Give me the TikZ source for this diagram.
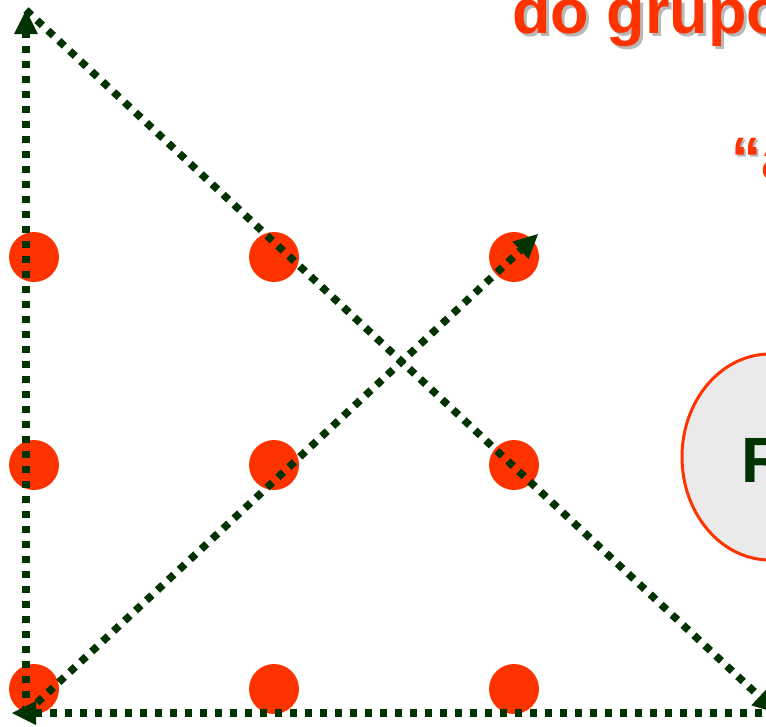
\documentclass[tikz,border=0pt]{standalone}
\usepackage{fontspec}
\setmainfont{Liberation Sans}
\usetikzlibrary{arrows.meta,shapes.geometric}
\definecolor{dotred}{HTML}{FF3300}
\definecolor{lngreen}{HTML}{003300}
\definecolor{shadegray}{HTML}{B8B8B8}
\definecolor{ellfill}{HTML}{EAEAEA}
\tikzset{
  dotc/.style={circle, fill=dotred, minimum size=50pt, inner sep=0pt},
  movearrow/.style={draw=lngreen, line width=7.5pt, dash pattern=on 7.5pt off 7.5pt,
    -{Triangle[length=24pt,width=24pt,line width=0pt]}},
  titletext/.style={anchor=base west, inner sep=0pt, font=\fontsize{63}{63}\selectfont\bfseries},
  quotetext/.style={anchor=base west, inner sep=0pt, font=\fontsize{60}{60}\selectfont\bfseries},
}
\begin{document}
\begin{tikzpicture}[x=1pt,y=-1pt]
\useasboundingbox (0,0) rectangle (766,726);
\clip (0,0) rectangle (766,726);
\fill[white] (0,0) rectangle (766,726);
% dots
\foreach \i/\x in {1/34,2/274,3/514}{
  \foreach \j/\y in {1/257,2/465,3/689}{
    \node[dotc] (d\i\j) at (\x,\y) {};
  }
}
% corner points of the path
\coordinate (bl) at (26,713);
\coordinate (tl) at (26,10);
\coordinate (br) at (777,713);
\coordinate (lt) at (12,713);
\coordinate (tr) at (538,234);
\draw[movearrow] (bl) -- (tl);
\draw[movearrow] (tl) -- (br);
\draw[movearrow] (br) -- (lt);
\draw[movearrow] (bl) -- (tr);
% title
\node[titletext, text=shadegray] at (515,36) {do grupo};
\node[titletext, text=dotred] (title) at (512,33) {do grupo};
% quote
\node[quotetext, text=shadegray] at (733,181) {“a};
\node[quotetext, text=dotred] (quote) at (731,179) {“a};
% ellipse
\node[ellipse, draw=dotred, line width=3pt, fill=ellfill, minimum width=176pt, minimum height=206pt] (ell) at (770,457) {};
\node[anchor=base west, inner sep=0pt, text=lngreen, font=\fontsize{64}{64}\selectfont\bfseries] (rlab) at (741,482) {R};
\end{tikzpicture}
\end{document}
